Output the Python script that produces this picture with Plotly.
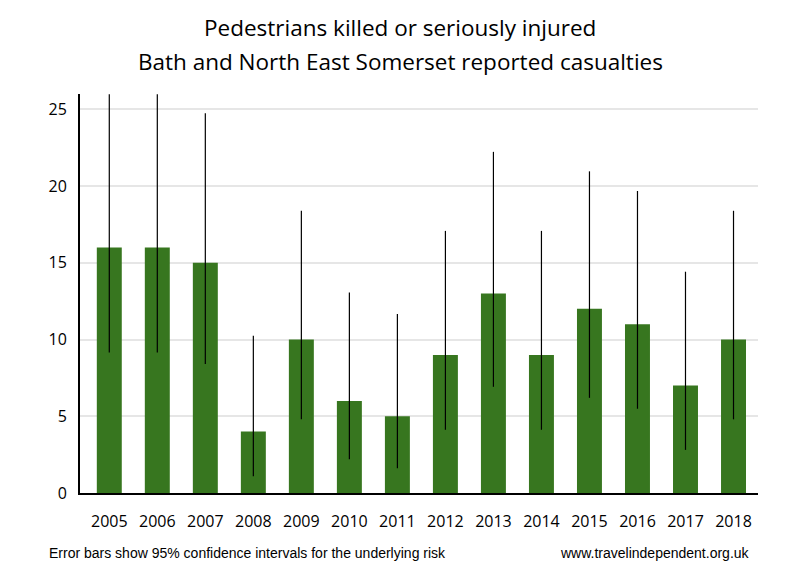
import plotly.graph_objects as go

years = ["2005", "2006", "2007", "2008", "2009", "2010", "2011",
         "2012", "2013", "2014", "2015", "2016", "2017", "2018"]
casualties = [16, 16, 15, 4, 10, 6, 5, 9, 13, 9, 12, 11, 7, 10]
ci_upper = [25.98, 25.98, 24.74, 10.24, 18.39, 13.06, 11.67,
            17.08, 22.23, 17.08, 20.96, 19.68, 14.42, 18.39]
ci_lower = [9.15, 9.15, 8.40, 1.09, 4.80, 2.20, 1.62,
            4.12, 6.92, 4.12, 6.20, 5.49, 2.81, 4.80]
title_lines = ["Pedestrians killed or seriously injured",
               "Bath and North East Somerset reported casualties"]

err_plus = [u - v for u, v in zip(ci_upper, casualties)]
err_minus = [v - l for v, l in zip(casualties, ci_lower)]

fig = go.Figure()
fig.add_trace(go.Bar(
    x=years, y=casualties,
    marker=dict(color="#37761f", line=dict(width=0)),
    width=0.52,
    error_y=dict(type="data", symmetric=False, array=err_plus, arrayminus=err_minus,
                 color="black", thickness=1.2, width=0),
))

plot_h = 580 - 94 - 87
def py(pix):
    return (580 - 87 - pix) / plot_h

fig.update_layout(
    width=800, height=580,
    paper_bgcolor="white", plot_bgcolor="white",
    margin=dict(l=80, r=42, t=94, b=87),
    showlegend=False,
    font=dict(family="Open Sans", color="black"),
    xaxis=dict(type="category", range=[-0.61, 13.51],
               showline=True, linecolor="black", linewidth=2,
               ticks="outside", ticklen=13, tickcolor="rgba(0,0,0,0)",
               tickfont=dict(size=16, color="black"), showgrid=False, zeroline=False),
    yaxis=dict(range=[0, 26], tickvals=[0, 5, 10, 15, 20, 25],
               showline=True, linecolor="black", linewidth=2,
               ticks="outside", ticklen=8, tickcolor="rgba(0,0,0,0)",
               tickfont=dict(size=16, color="black"),
               showgrid=True, gridcolor="#e6e6e6", gridwidth=1.5, zeroline=False),
    annotations=[
        dict(text=title_lines[0], xref="paper", yref="paper",
             x=(400 - 80) / 678, y=py(28), xanchor="center", yanchor="middle",
             showarrow=False, font=dict(family="Open Sans", size=22.5, color="black")),
        dict(text=title_lines[1], xref="paper", yref="paper",
             x=(400 - 80) / 678, y=py(61), xanchor="center", yanchor="middle",
             showarrow=False, font=dict(family="Open Sans", size=22.5, color="black")),
        dict(text="Error bars show 95% confidence intervals for the underlying risk",
             xref="paper", yref="paper", x=(47 - 80) / 678, y=py(553),
             xanchor="left", yanchor="middle", showarrow=False,
             font=dict(family="Liberation Sans", size=14, color="black")),
        dict(text="www.travelindependent.org.uk",
             xref="paper", yref="paper", x=(752 - 80) / 678, y=py(553),
             xanchor="right", yanchor="middle", showarrow=False,
             font=dict(family="Liberation Sans", size=14, color="black")),
    ],
)

fig.write_html("out.html")
